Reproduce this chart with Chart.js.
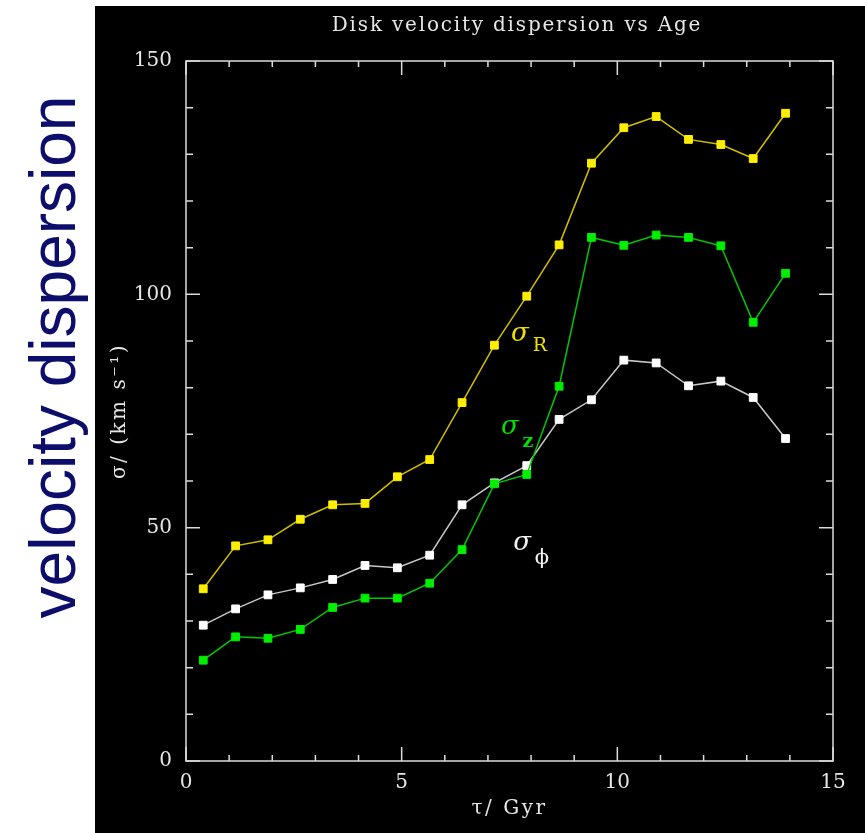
<!DOCTYPE html>
<html>
<head>
<meta charset="utf-8">
<script src="https://cdn.jsdelivr.net/npm/chart.js@4.4.1/dist/chart.umd.min.js"></script>
<style>
  html, body { margin: 0; padding: 0; background: #fff; }
  #page { position: relative; width: 865px; height: 833px; overflow: hidden; background: #fff; }
  #side {
    position: absolute; left: 53px; top: 357px;
    transform: translate(-50%, -50%) rotate(-90deg);
    font: 64px "Liberation Sans", Arial, sans-serif; line-height: 1;
    color: #0d0d6b; white-space: nowrap;
  }
  #panel { position: absolute; left: 95px; top: 6px; width: 770px; height: 827px; background: #000; }
</style>
</head>
<body>
<div id="page">
  <div id="side">velocity dispersion</div>
  <div id="panel"><canvas id="chart" width="770" height="827"></canvas></div>
</div>
<script>
// age bins (Gyr) and dispersions (km/s)
const ages     = [0.4, 1.15, 1.9, 2.65, 3.4, 4.15, 4.9, 5.65, 6.4, 7.15, 7.9, 8.65, 9.4, 10.15, 10.9, 11.65, 12.4, 13.15, 13.9];
const sigmaR   = [36.9, 46.1, 47.4, 51.8, 54.9, 55.2, 60.9, 64.6, 76.8, 89.1, 99.6, 110.6, 128.1, 135.7, 138.1, 133.2, 132.1, 129.1, 138.8];
const sigmaZ   = [21.6, 26.6, 26.3, 28.2, 32.9, 34.9, 34.9, 38.1, 45.3, 59.4, 61.4, 80.3, 112.2, 110.5, 112.7, 112.2, 110.4, 94.0, 104.5];
const sigmaPhi = [29.1, 32.6, 35.6, 37.1, 38.9, 41.9, 41.4, 44.1, 54.9, 59.6, 63.3, 73.2, 77.4, 85.9, 85.3, 80.4, 81.4, 77.9, 69.1];

const xTicks = [0, 5, 10, 15];
const yTicks = [0, 50, 100, 150];
const xMinor = [1, 2, 3, 4, 6, 7, 8, 9, 11, 12, 13, 14];
const yMinor = [10, 20, 30, 40, 60, 70, 80, 90, 110, 120, 130, 140];

const FONT = '"DejaVu Serif", "Liberation Serif", serif';
const AXIS = '#dcdcdc';

// curve labels, anchored in data units
const curveLabels = [
  { sub: 'R', x: 7.74, y: 91.5, dx: 20, dy: 12, size: 19, color: '#f0e000' },
  { sub: 'z', x: 7.51, y: 71.6, dx: 18, dy: 15, size: 19, color: '#00e000' },
  { sub: 'ϕ', x: 7.79, y: 46.7, dx: 20, dy: 15, size: 21, color: '#f2f2f2' }
];

function pts(vals) {
  return ages.map((a, i) => ({ x: a, y: vals[i] }));
}

// pgplot-ish frame: box on all sides with inward ticks, plus titles
const frame = {
  id: 'frame',
  beforeDatasetsDraw(chart) {
    const { ctx, chartArea: a, scales: { x, y } } = chart;
    ctx.save();
    ctx.strokeStyle = AXIS;
    ctx.lineWidth = 1.5;
    ctx.strokeRect(a.left, a.top, a.right - a.left, a.bottom - a.top);
    ctx.beginPath();
    const xt = (v, len) => {
      const p = x.getPixelForValue(v);
      ctx.moveTo(p, a.bottom); ctx.lineTo(p, a.bottom - len);
      ctx.moveTo(p, a.top);    ctx.lineTo(p, a.top + len);
    };
    const yt = (v, len) => {
      const p = y.getPixelForValue(v);
      ctx.moveTo(a.left, p);  ctx.lineTo(a.left + len, p);
      ctx.moveTo(a.right, p); ctx.lineTo(a.right - len, p);
    };
    xMinor.forEach(v => xt(v, 6));
    xTicks.forEach(v => xt(v, 14));
    yMinor.forEach(v => yt(v, 7));
    yTicks.forEach(v => yt(v, 14));
    ctx.stroke();
    ctx.restore();
  },
  afterDraw(chart) {
    const { ctx, chartArea: a, scales: { x, y } } = chart;
    ctx.save();
    ctx.textAlign = 'center';
    ctx.textBaseline = 'middle';
    ctx.fillStyle = '#e6e6e6';
    ctx.letterSpacing = '1.8px';
    ctx.font = '20px ' + FONT;
    ctx.fillText('Disk velocity dispersion vs Age', 422, 20);

    ctx.letterSpacing = '2.5px';
    ctx.fillText('τ/ Gyr', (a.left + a.right) / 2, 803);

    ctx.save();
    ctx.translate(25, (a.top + a.bottom) / 2);
    ctx.rotate(-Math.PI / 2);
    ctx.fillText('σ/ (km s⁻¹)', 0, 0);
    ctx.restore();

    ctx.letterSpacing = '0px';
    curveLabels.forEach(l => {
      const px = x.getPixelForValue(l.x), py = y.getPixelForValue(l.y);
      ctx.fillStyle = l.color;
      ctx.font = 'italic 26px ' + FONT;
      ctx.fillText('σ', px, py);
      ctx.font = (l.sub === 'z' ? 'bold ' : '') + l.size + 'px ' + FONT;
      ctx.fillText(l.sub, px + l.dx, py + l.dy);
    });
    ctx.restore();
  }
};

function series(label, vals, line, fill, order) {
  return {
    label, data: pts(vals), order,
    borderColor: line, borderWidth: 1.5,
    pointStyle: 'rect', pointRadius: 5.5, pointBorderWidth: 1,
    pointBackgroundColor: fill, pointBorderColor: fill,
    tension: 0, fill: false
  };
}

new Chart(document.getElementById('chart'), {
  type: 'line',
  data: {
    datasets: [
      series('sigma z', sigmaZ, '#00c800', '#00ee00', 1),
      series('sigma phi', sigmaPhi, '#c8c8c8', '#ffffff', 2),
      series('sigma R', sigmaR, '#d2be00', '#ffee00', 3)
    ]
  },
  options: {
    responsive: false,
    animation: false,
    layout: { padding: { top: 55, right: 32, left: 0, bottom: 0 } },
    plugins: { legend: { display: false }, tooltip: { enabled: false }, title: { display: false } },
    scales: {
      x: {
        type: 'linear', min: 0, max: 15,
        grid: { display: false, drawTicks: false }, border: { display: false },
        afterBuildTicks: s => { s.ticks = xTicks.map(v => ({ value: v })); },
        afterFit: s => { s.height = 72; },
        ticks: { color: '#e6e6e6', font: { family: FONT, size: 20 }, padding: 10, maxRotation: 0, autoSkip: false }
      },
      y: {
        type: 'linear', min: 0, max: 150,
        grid: { display: false, drawTicks: false }, border: { display: false },
        afterBuildTicks: s => { s.ticks = yTicks.map(v => ({ value: v })); },
        afterFit: s => { s.width = 91; },
        ticks: { color: '#e6e6e6', font: { family: FONT, size: 20 }, padding: 14 }
      }
    }
  },
  plugins: [frame]
});
</script>
</body>
</html>
